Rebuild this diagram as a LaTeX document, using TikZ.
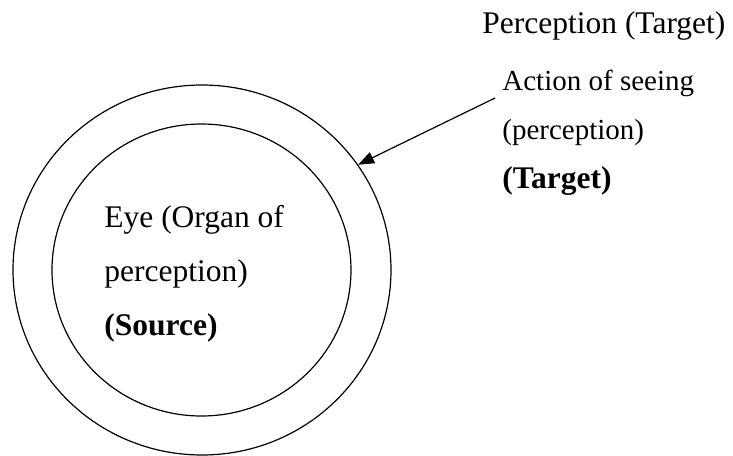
\documentclass[tikz,border=0pt]{standalone}
\usepackage{fontspec}
\setmainfont{Liberation Serif}
\usetikzlibrary{arrows.meta,shapes.geometric}

\begin{document}
\begin{tikzpicture}[x=0.5pt, y=-0.5pt, >={Triangle[length=8pt,width=6pt]},
      ring/.style={draw, ellipse, line width=0.6pt, inner sep=0pt},
      lbl/.style={align=left, inner sep=0pt, anchor=base west}]
  \useasboundingbox (0,0) rectangle (733,455);
  % the two rings
  \node[ring, minimum width=189pt, minimum height=185pt] (outer) at (202,270) {};
  \node[ring, minimum width=149.5pt, minimum height=146pt] (inner) at (201.5,270) {};
  % labels (base = last line)
  \node[lbl, font=\fontsize{15.75}{27}\selectfont] (eye) at (104,335)
        {Eye (Organ of\\perception)\\\textbf{(Source)}};
  \node[lbl, font=\fontsize{15.75}{19}\selectfont] (perc) at (482,33) {Perception (Target)};
  \node[lbl, font=\fontsize{14.5}{24.5}\selectfont] (act) at (502,188)
        {Action of seeing\\(perception)\\{\fontsize{15.75}{24.5}\selectfont\textbf{(Target)}}};
  \coordinate (tail) at (495,98);
  \draw[->, line width=0.6pt] (tail) -- (outer.34);
\end{tikzpicture}
\end{document}
